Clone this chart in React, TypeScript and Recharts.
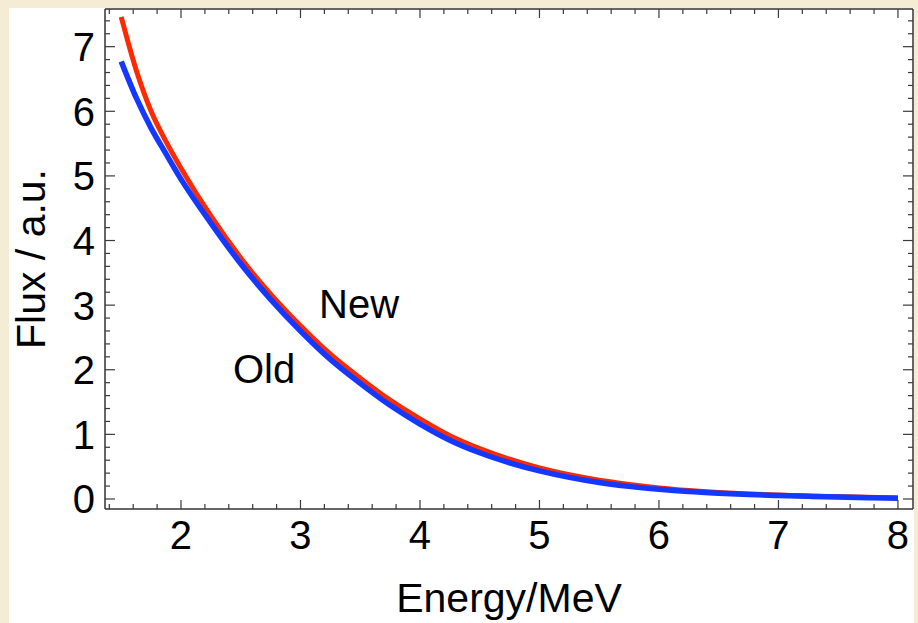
import { LineChart, Line, XAxis, YAxis, ReferenceDot } from "recharts";

// Energy grid (MeV) and flux
const energy = [1.5, 1.625, 1.75, 1.875, 2.0, 2.25, 2.5, 2.75, 3.0, 3.25, 3.5, 3.75, 4.0, 4.25, 4.5, 4.75, 5.0, 5.25, 5.5, 5.75, 6.0, 6.25, 6.5, 6.75, 7.0, 7.25, 7.5, 7.75, 8.0];
const fluxNew = [7.46, 6.64, 6.0, 5.53, 5.12, 4.38, 3.73, 3.17, 2.68, 2.24, 1.87, 1.53, 1.24, 0.98, 0.78, 0.615, 0.48, 0.375, 0.29, 0.225, 0.17, 0.13, 0.1, 0.078, 0.062, 0.047, 0.036, 0.025, 0.016];
const fluxOld = [6.77, 6.21, 5.74, 5.34, 4.95, 4.27, 3.64, 3.09, 2.6, 2.16, 1.79, 1.45, 1.16, 0.91, 0.715, 0.56, 0.435, 0.335, 0.255, 0.195, 0.15, 0.115, 0.09, 0.07, 0.054, 0.041, 0.03, 0.02, 0.012];

const xMajor = [2, 3, 4, 5, 6, 7, 8];
const yMajor = [0, 1, 2, 3, 4, 5, 6, 7];

const X_DOMAIN: [number, number] = [1.364, 8.126];
const Y_DOMAIN: [number, number] = [-0.155, 7.583];

// minor ticks every 0.2
const steps = (from: number, to: number) => {
  const out: number[] = [];
  for (let v = from; v <= to + 1e-9; v += 0.2) out.push(Math.round(v * 10) / 10);
  return out;
};
const xTicks = steps(1.4, 8.0);
const yTicks = steps(0, 7.4);

const data = energy.map((e, i) => ({ e, newFlux: fluxNew[i], oldFlux: fluxOld[i] }));

const FONT = "'Liberation Sans', Arial, Helvetica, sans-serif";
const TICK = "#3a3a3a";
const FRAME = { stroke: "#333", strokeWidth: 1.5 };

const isMajor = (v: number, majors: number[]) => majors.some((m) => Math.abs(m - v) < 1e-6);

function BottomTick({ x, y, payload }: any) {
  const major = isMajor(payload.value, xMajor);
  return (
    <g>
      <line x1={x} x2={x} y1={y} y2={y - (major ? 9 : 5)} stroke={TICK} strokeWidth={1.2} />
      {major && (
        <text x={x} y={y + 40} textAnchor="middle" fontSize={40} fill="#000" fontFamily={FONT}>
          {payload.value}
        </text>
      )}
    </g>
  );
}

function TopTick({ x, y, payload }: any) {
  const major = isMajor(payload.value, xMajor);
  return <line x1={x} x2={x} y1={y} y2={y + (major ? 9 : 5)} stroke={TICK} strokeWidth={1.2} />;
}

function LeftTick({ x, y, payload }: any) {
  const major = isMajor(payload.value, yMajor);
  return (
    <g>
      <line x1={x} x2={x + (major ? 10 : 5)} y1={y} y2={y} stroke={TICK} strokeWidth={1.2} />
      {major && (
        <text x={x - 10} y={y} dy="0.36em" textAnchor="end" fontSize={40} fill="#000" fontFamily={FONT}>
          {payload.value}
        </text>
      )}
    </g>
  );
}

function RightTick({ x, y, payload }: any) {
  const major = isMajor(payload.value, yMajor);
  return <line x1={x} x2={x - (major ? 10 : 5)} y1={y} y2={y} stroke={TICK} strokeWidth={1.2} />;
}

const curveLabel = (text: string) => (p: any) => (
  <text x={p.viewBox.x} y={p.viewBox.y} fontSize={40} fill="#000" fontFamily={FONT}>
    {text}
  </text>
);

export default function App() {
  return (
    <div style={{ position: "absolute", left: 0, top: 0, width: 918, height: 623, background: "#f4ecd4" }}>
      <div style={{ position: "absolute", left: 9, top: 8, width: 905, height: 615, background: "#fff" }} />
      <div style={{ position: "absolute", left: 0, top: 0 }}>
        <LineChart
          width={918}
          height={623}
          data={data}
          margin={{ top: 8, right: 4, bottom: 113, left: 104 }}
          style={{ fontFamily: FONT }}
        >
          <XAxis
            dataKey="e"
            type="number"
            domain={X_DOMAIN}
            allowDataOverflow
            ticks={xTicks}
            interval={0}
            height={1}
            tickSize={0}
            tickMargin={0}
            tickLine={false}
            tick={<BottomTick />}
            axisLine={FRAME}
            label={{
              content: (p: any) => (
                <text
                  x={p.viewBox.x + p.viewBox.width / 2}
                  y={p.viewBox.y + 103}
                  textAnchor="middle"
                  fontSize={41}
                  fill="#000"
                  fontFamily={FONT}
                >
                  Energy/MeV
                </text>
              ),
            }}
          />
          <XAxis
            xAxisId="top"
            orientation="top"
            dataKey="e"
            type="number"
            domain={X_DOMAIN}
            allowDataOverflow
            ticks={xTicks}
            interval={0}
            height={1}
            tickSize={0}
            tickMargin={0}
            tickLine={false}
            tick={<TopTick />}
            axisLine={FRAME}
          />
          <YAxis
            type="number"
            domain={Y_DOMAIN}
            allowDataOverflow
            ticks={yTicks}
            interval={0}
            width={1}
            tickSize={0}
            tickMargin={0}
            tickLine={false}
            tick={<LeftTick />}
            axisLine={FRAME}
            label={{
              content: (p: any) => {
                const cy = p.viewBox.y + p.viewBox.height / 2;
                return (
                  <text
                    x={45}
                    y={cy}
                    transform={`rotate(-90, 45, ${cy})`}
                    textAnchor="middle"
                    fontSize={41}
                    fill="#000"
                    fontFamily={FONT}
                  >
                    Flux / a.u.
                  </text>
                );
              },
            }}
          />
          <YAxis
            yAxisId="right"
            orientation="right"
            type="number"
            domain={Y_DOMAIN}
            allowDataOverflow
            ticks={yTicks}
            interval={0}
            width={1}
            tickSize={0}
            tickMargin={0}
            tickLine={false}
            tick={<RightTick />}
            axisLine={FRAME}
          />
          <Line
            dataKey="newFlux"
            type="monotone"
            stroke="#ff2a00"
            strokeWidth={5}
            dot={false}
            isAnimationActive={false}
          />
          <Line
            dataKey="oldFlux"
            type="monotone"
            stroke="#1438ff"
            strokeWidth={5.5}
            dot={false}
            isAnimationActive={false}
          />
          <ReferenceDot x={3.155} y={2.8} r={0} fill="none" stroke="none" label={{ content: curveLabel("New") }} />
          <ReferenceDot x={2.435} y={1.8} r={0} fill="none" stroke="none" label={{ content: curveLabel("Old") }} />
        </LineChart>
      </div>
    </div>
  );
}
